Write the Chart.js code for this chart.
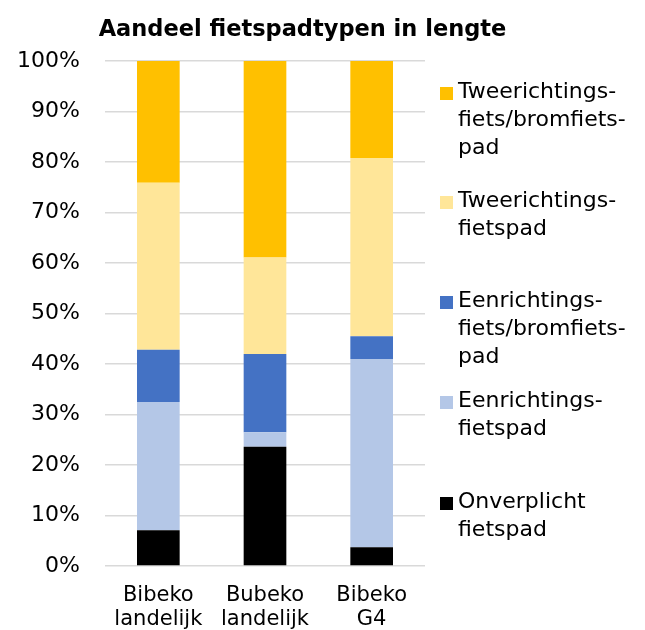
<!DOCTYPE html>
<html>
<head>
<meta charset="utf-8">
<script src="https://cdn.jsdelivr.net/npm/chart.js@4"></script>
<style>
    html, body { margin: 0; padding: 0; background: #fff; overflow: hidden; }
    #wrap { position: relative; width: 645px; height: 630px; }
    #chart { position: absolute; left: 0; top: 0; }
    #legend { position: absolute; left: 0; top: 0; font-family: 'DejaVu Sans', Verdana, sans-serif; font-size: 22px; line-height: 28px; color: #000; }
    .item { position: absolute; left: 440px; display: flex; white-space: nowrap; }
    .box { width: 13px; height: 13px; margin-top: 10px; margin-right: 5px; flex: none; }
</style>
</head>
<body>
<div id="wrap">
    <canvas id="chart" width="605" height="634"></canvas>
    <div id="legend"></div>
</div>
<script>
var categories = [['Bibeko', 'landelijk'], ['Bubeko', 'landelijk'], ['Bibeko', 'G4']];
var seriesNames = [
    ['Onverplicht', 'fietspad'],
    ['Eenrichtings-', 'fietspad'],
    ['Eenrichtings-', 'fiets/bromfiets-', 'pad'],
    ['Tweerichtings-', 'fietspad'],
    ['Tweerichtings-', 'fiets/bromfiets-', 'pad']
];
var onverplicht = [7.1, 23.6, 3.7];
var eenFietspad = [25.4, 2.9, 37.3];
var eenBromfietspad = [10.3, 15.5, 4.5];
var tweeFietspad = [33.1, 19.1, 35.3];
var tweeBromfietspad = [24.1, 38.9, 19.2];
var seriesColors = ['#000000', '#B4C7E7', '#4472C4', '#FFE699', '#FFC000'];
var yTicks = [0, 10, 20, 30, 40, 50, 60, 70, 80, 90, 100];

var seriesValues = [onverplicht, eenFietspad, eenBromfietspad, tweeFietspad, tweeBromfietspad];
// legend tops, top item first (Excel spreads them unevenly)
var legendTops = [77, 186, 286, 386, 487];

document.addEventListener('DOMContentLoaded', function () {
    var font = "'DejaVu Sans', Verdana, sans-serif";
    var datasets = seriesValues.map(function (vals, i) {
        return {
            label: seriesNames[i].join(''),
            data: vals,
            backgroundColor: seriesColors[i],
            borderWidth: 0,
            barPercentage: 0.4,
            categoryPercentage: 1
        };
    });

    var ctx = document.getElementById('chart').getContext('2d');
    var chart = new Chart(ctx, {
        type: 'bar',
        data: { labels: categories, datasets: datasets },
        options: {
            responsive: false,
            animation: false,
            layout: { padding: 0 },
            scales: {
                x: {
                    stacked: true,
                    afterFit: function (scale) { scale.height = 68; },
                    grid: { display: false },
                    border: { display: false },
                    ticks: {
                        color: '#000',
                        padding: 9,
                        maxRotation: 0,
                        font: { family: font, size: 21, lineHeight: 1.15 }
                    }
                },
                y: {
                    stacked: true,
                    min: 0,
                    max: 100,
                    afterFit: function (scale) { scale.width = 105; },
                    afterBuildTicks: function (scale) {
                        scale.ticks = yTicks.map(function (v) { return { value: v }; });
                    },
                    grid: { color: '#D9D9D9', lineWidth: 1.5, drawTicks: false },
                    border: { display: false },
                    ticks: {
                        color: '#000',
                        padding: 25,
                        font: { family: font, size: 22 },
                        callback: function (v) { return v + '%'; }
                    }
                },
                // empty right axis: keeps room for the legend so the title stays centred on the whole canvas
                room: {
                    type: 'linear',
                    position: 'right',
                    display: true,
                    afterFit: function (scale) { scale.width = 180; },
                    grid: { display: false },
                    border: { display: false },
                    ticks: { display: false }
                }
            },
            plugins: {
                legend: { display: false },
                tooltip: { enabled: false },
                title: {
                    display: true,
                    text: 'Aandeel fietspadtypen in lengte',
                    color: '#000',
                    padding: { top: 17, bottom: 17 },
                    font: { family: font, size: 22.5, weight: 'bold', lineHeight: 1.2 }
                }
            }
        }
    });

    var legend = document.getElementById('legend');
    chart.data.datasets.slice().reverse().forEach(function (ds, k) {
        var idx = chart.data.datasets.length - 1 - k;
        var item = document.createElement('div');
        item.className = 'item';
        item.style.top = legendTops[k] + 'px';
        var box = document.createElement('span');
        box.className = 'box';
        box.style.background = ds.backgroundColor;
        var txt = document.createElement('div');
        txt.innerHTML = seriesNames[idx].join('<br>');
        item.appendChild(box);
        item.appendChild(txt);
        legend.appendChild(item);
    });
});
</script>
</body>
</html>
